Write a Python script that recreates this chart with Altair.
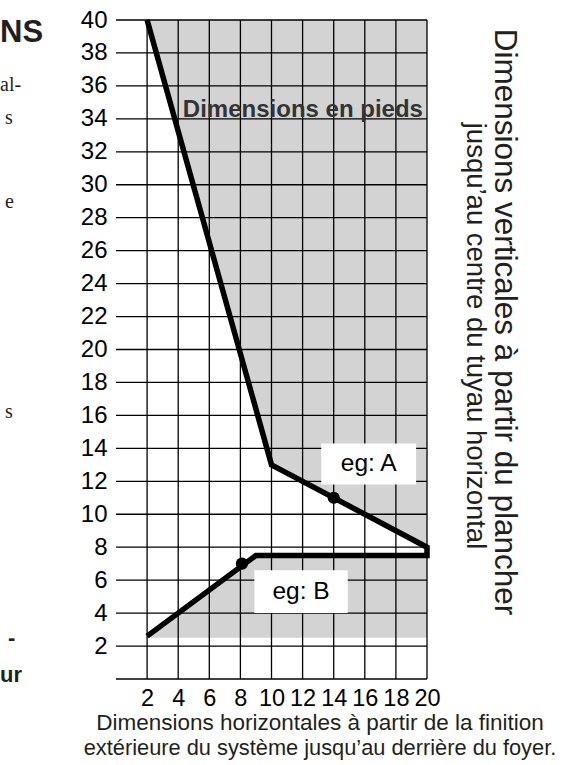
import altair as alt
import pandas as pd

# ---- data ----
x_ticks = [2, 4, 6, 8, 10, 12, 14, 16, 18, 20]
y_ticks = [2, 4, 6, 8, 10, 12, 14, 16, 18, 20, 22, 24, 26, 28, 30, 32, 34, 36, 38, 40]
y_grid = [0] + y_ticks

line_a_x = [2, 10, 20]
line_a_y = [40, 13, 8]
line_b_x = [2, 9, 20]
line_b_y = [2.6, 7.5, 7.5]
shade_top = 40
shade_floor = 2.5

example_x = [14, 8.1]
example_y = [11, 7.0]

label_text = ["eg: A", "eg:  B"]
label_x1 = [13.2, 8.9]
label_x2 = [19.3, 14.9]
label_y1 = [11.8, 4.0]
label_y2 = [14.3, 6.6]

region_label = "Dimensions en pieds"
region_label_x = 4.3
region_label_y = 34.1

x_title = ["Dimensions horizontales à partir de la finition",
           "extérieure du système jusqu’au derrière du foyer."]
y_title = ["Dimensions verticales à partir du plancher",
           "jusqu’au centre du tuyau horizontal"]

fragments = ["NS", "al-", "s", "e", "s", "-", "ur"]

# ---- layout ----
W, H = 311, 659
PAD_L, PAD_T = 116, 20
FONT = "Liberation Sans"
GRAY = "#d3d3d3"
INK = "#231f20"

xs = alt.Scale(domain=[0, 20], nice=False, zero=False)
ys = alt.Scale(domain=[0, 40], nice=False, zero=False)

x_axis = alt.Axis(values=x_ticks, grid=False, domain=False, ticks=False, title=None,
                  labelFontSize=23.5, labelFont=FONT, labelColor="black", labelPadding=7,
                  labelFlush=False, labelOverlap=False)
y_axis = alt.Axis(values=y_ticks, grid=False, domain=False, ticks=False, title=None,
                  labelFontSize=24, labelFont=FONT, labelColor="black", labelPadding=9,
                  labelFlush=False, labelOverlap=False)

X = lambda f: alt.X(f, scale=xs, axis=x_axis)
Y = lambda f: alt.Y(f, scale=ys, axis=y_axis)

df_a = pd.DataFrame({"x": line_a_x, "y": line_a_y, "edge": shade_top})
df_b = pd.DataFrame({"x": line_b_x, "y": line_b_y, "edge": shade_floor})

shade_a = alt.Chart(df_a).mark_area(color=GRAY, opacity=1).encode(
    x=X("x:Q"), y=Y("y:Q"), y2="edge:Q"
)
shade_b = alt.Chart(df_b).mark_area(color=GRAY, opacity=1).encode(
    x=X("x:Q"), y=Y("y:Q"), y2="edge:Q"
)

vgrid = alt.Chart(pd.DataFrame({"x": x_ticks})).mark_rule(color="black", strokeWidth=1.3).encode(
    x=X("x:Q"), y=alt.datum(0, scale=ys, axis=y_axis), y2=alt.datum(40)
)
hgrid = alt.Chart(pd.DataFrame({"y": y_grid})).mark_rule(color="black", strokeWidth=1.3).encode(
    y=Y("y:Q"), x=alt.datum(0, scale=xs, axis=x_axis), x2=alt.datum(20)
)

path_x = line_a_x + [line_a_x[-1]] + line_b_x[::-1]
path_y = line_a_y + [line_b_y[-1]] + line_b_y[::-1]
df_path = pd.DataFrame({"x": path_x, "y": path_y, "o": list(range(len(path_x)))})
curve = alt.Chart(df_path).mark_line(color="black", strokeWidth=5.5, strokeJoin="miter",
                                      strokeCap="butt").encode(
    x=X("x:Q"), y=Y("y:Q"), order="o:Q"
)

dots = alt.Chart(pd.DataFrame({"x": example_x, "y": example_y})).mark_circle(
    color="black", opacity=1, size=150).encode(x=X("x:Q"), y=Y("y:Q"))

df_lab = pd.DataFrame({"t": label_text, "x1": label_x1, "x2": label_x2,
                       "y1": label_y1, "y2": label_y2})
boxes = alt.Chart(df_lab).mark_rect(color="white", opacity=1).encode(
    x=X("x1:Q"), x2="x2:Q", y=Y("y1:Q"), y2="y2:Q"
)
box_text = alt.Chart(df_lab).transform_calculate(
    cx="(datum.x1 + datum.x2) / 2", cy="(datum.y1 + datum.y2) / 2"
).mark_text(font=FONT, fontSize=24.5, color="black", baseline="middle", align="center").encode(
    x=X("cx:Q"), y=Y("cy:Q"), text="t:N"
)

region = alt.Chart(pd.DataFrame({"x": [region_label_x], "y": [region_label_y], "t": [region_label]})
                   ).mark_text(font=FONT, fontSize=24, fontWeight="bold", color="#333333",
                               align="left", baseline="alphabetic").encode(
    x=X("x:Q"), y=Y("y:Q"), text="t:N"
)

one = pd.DataFrame({"k": [0]})


def label(text, x, y, size, **kw):
    return alt.Chart(one).mark_text(text=text, fontSize=size, **kw).encode(
        x=alt.value(x), y=alt.value(y)
    )


# axis titles (two lines each)
xt1 = label(x_title[0], 204, 710, 22.5, font=FONT, color=INK, align="center", baseline="alphabetic")
xt2 = label(x_title[1], 204, 735, 21.8, font=FONT, color=INK, align="center", baseline="alphabetic")
yt1 = label(y_title[0], 379, 302, 31.5, font=FONT, color=INK, align="center", baseline="alphabetic", angle=90)
yt2 = label(y_title[1], 351, 316, 27.5, font=FONT, color=INK, align="center", baseline="alphabetic", angle=90)

# cut-off text fragments from the neighbouring column
SERIF = "Liberation Serif"
fr = [
    label(fragments[0], -116, 13, 31, font=FONT, fontWeight="bold", color=INK, align="left"),
    label(fragments[1], -116, 65, 20, font=SERIF, color=INK, align="left"),
    label(fragments[2], -111, 98, 20, font=SERIF, color=INK, align="left"),
    label(fragments[3], -111, 182, 20, font=SERIF, color=INK, align="left"),
    label(fragments[4], -111, 392, 20, font=SERIF, color=INK, align="left"),
    label(fragments[5], -108, 618, 22, font=FONT, fontWeight="bold", color=INK, align="left"),
    label(fragments[6], -116, 655, 22, font=FONT, fontWeight="bold", color=INK, align="left"),
]

chart = alt.layer(
    shade_a, shade_b, vgrid, hgrid, curve, dots, boxes, box_text, region,
    xt1, xt2, yt1, yt2, *fr
).properties(
    width=W, height=H,
    padding={"left": PAD_L, "top": PAD_T, "right": 587 - PAD_L - W, "bottom": 765 - PAD_T - H},
    autosize=alt.AutoSizeParams(type="none"),
    background="white",
).configure_view(stroke=None).configure_axis(labelOverlap=False)

chart.save("out.html", embed_options={"renderer": "svg", "actions": False})
